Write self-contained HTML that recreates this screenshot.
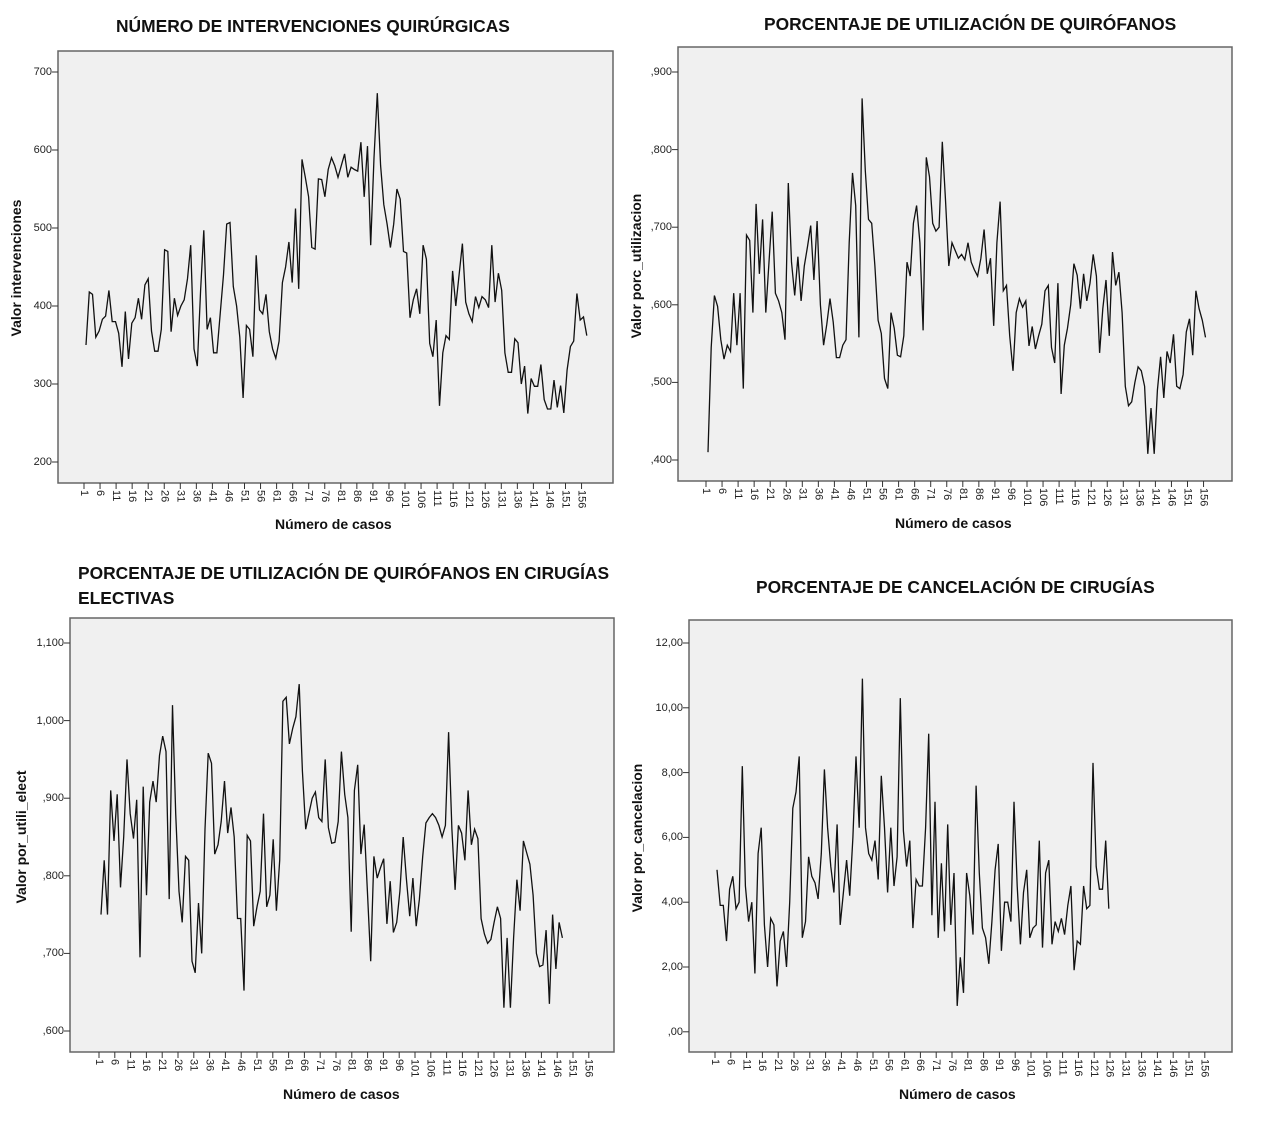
<!DOCTYPE html>
<html><head><meta charset="utf-8"><style>
body{margin:0;width:1262px;height:1122px;background:#fff;position:relative;overflow:hidden;font-family:"Liberation Sans",Arial,sans-serif}
.t{position:absolute;font-weight:bold;font-size:17.4px;color:#111;white-space:nowrap}
.ax{position:absolute;font-weight:bold;font-size:14px;color:#111;white-space:nowrap}
.yl{position:absolute;font-weight:bold;font-size:14px;color:#111;white-space:nowrap;transform:translate(-50%,-50%) rotate(-90deg)}
.yt{position:absolute;font-size:11px;color:#222;text-align:right;width:40px;line-height:12px}
.xt{position:absolute;display:flex;font-size:11px;color:#222}
.xt span{writing-mode:vertical-rl;display:block;text-align:left;line-height:16px}
svg{position:absolute;left:0;top:0}
</style></head><body>
<svg id="s" width="1262" height="1122"></svg>

<div class="t" style="left:116px;top:16px">NÚMERO DE INTERVENCIONES QUIRÚRGICAS</div>
<div class="t" style="left:764px;top:14px">PORCENTAJE DE UTILIZACIÓN DE QUIRÓFANOS</div>
<div class="t" style="left:78px;top:563px">PORCENTAJE DE UTILIZACIÓN DE QUIRÓFANOS EN CIRUGÍAS</div>
<div class="t" style="left:78px;top:588px">ELECTIVAS</div>
<div class="t" style="left:756px;top:577px">PORCENTAJE DE CANCELACIÓN DE CIRUGÍAS</div>

<div class="ax" style="left:275px;top:516px">Número de casos</div>
<div class="ax" style="left:895px;top:515px">Número de casos</div>
<div class="ax" style="left:283px;top:1086px">Número de casos</div>
<div class="ax" style="left:899px;top:1086px">Número de casos</div>

<div class="yl" style="left:16px;top:268px">Valor intervenciones</div>
<div class="yl" style="left:636px;top:266px">Valor porc_utilizacion</div>
<div class="yl" style="left:21px;top:837px">Valor por_utili_elect</div>
<div class="yl" style="left:637px;top:838px">Valor por_cancelacion</div>

<div class="yt" style="left:12px;top:66px">700</div>
<div class="yt" style="left:12px;top:144px">600</div>
<div class="yt" style="left:12px;top:222px">500</div>
<div class="yt" style="left:12px;top:300px">400</div>
<div class="yt" style="left:12px;top:378px">300</div>
<div class="yt" style="left:12px;top:456px">200</div>

<div class="yt" style="left:632px;top:66px">,900</div>
<div class="yt" style="left:632px;top:144px">,800</div>
<div class="yt" style="left:632px;top:221px">,700</div>
<div class="yt" style="left:632px;top:299px">,600</div>
<div class="yt" style="left:632px;top:376px">,500</div>
<div class="yt" style="left:632px;top:454px">,400</div>

<div class="yt" style="left:24px;top:637px">1,100</div>
<div class="yt" style="left:24px;top:715px">1,000</div>
<div class="yt" style="left:24px;top:792px">,900</div>
<div class="yt" style="left:24px;top:870px">,800</div>
<div class="yt" style="left:24px;top:947px">,700</div>
<div class="yt" style="left:24px;top:1025px">,600</div>

<div class="yt" style="left:643px;top:637px">12,00</div>
<div class="yt" style="left:643px;top:702px">10,00</div>
<div class="yt" style="left:643px;top:767px">8,00</div>
<div class="yt" style="left:643px;top:831px">6,00</div>
<div class="yt" style="left:643px;top:896px">4,00</div>
<div class="yt" style="left:643px;top:961px">2,00</div>
<div class="yt" style="left:643px;top:1026px">,00</div>

<div class="xt" style="left:76px;top:490px"><span style="width:16.05px">1</span><span style="width:16.05px">6</span><span style="width:16.05px">11</span><span style="width:16.05px">16</span><span style="width:16.05px">21</span><span style="width:16.05px">26</span><span style="width:16.05px">31</span><span style="width:16.05px">36</span><span style="width:16.05px">41</span><span style="width:16.05px">46</span><span style="width:16.05px">51</span><span style="width:16.05px">56</span><span style="width:16.05px">61</span><span style="width:16.05px">66</span><span style="width:16.05px">71</span><span style="width:16.05px">76</span><span style="width:16.05px">81</span><span style="width:16.05px">86</span><span style="width:16.05px">91</span><span style="width:16.05px">96</span><span style="width:16.05px">101</span><span style="width:16.05px">106</span><span style="width:16.05px">111</span><span style="width:16.05px">116</span><span style="width:16.05px">121</span><span style="width:16.05px">126</span><span style="width:16.05px">131</span><span style="width:16.05px">136</span><span style="width:16.05px">141</span><span style="width:16.05px">146</span><span style="width:16.05px">151</span><span style="width:16.05px">156</span></div>
<div class="xt" style="left:698px;top:488px"><span style="width:16.05px">1</span><span style="width:16.05px">6</span><span style="width:16.05px">11</span><span style="width:16.05px">16</span><span style="width:16.05px">21</span><span style="width:16.05px">26</span><span style="width:16.05px">31</span><span style="width:16.05px">36</span><span style="width:16.05px">41</span><span style="width:16.05px">46</span><span style="width:16.05px">51</span><span style="width:16.05px">56</span><span style="width:16.05px">61</span><span style="width:16.05px">66</span><span style="width:16.05px">71</span><span style="width:16.05px">76</span><span style="width:16.05px">81</span><span style="width:16.05px">86</span><span style="width:16.05px">91</span><span style="width:16.05px">96</span><span style="width:16.05px">101</span><span style="width:16.05px">106</span><span style="width:16.05px">111</span><span style="width:16.05px">116</span><span style="width:16.05px">121</span><span style="width:16.05px">126</span><span style="width:16.05px">131</span><span style="width:16.05px">136</span><span style="width:16.05px">141</span><span style="width:16.05px">146</span><span style="width:16.05px">151</span><span style="width:16.05px">156</span></div>
<div class="xt" style="left:91px;top:1059px"><span style="width:15.8px">1</span><span style="width:15.8px">6</span><span style="width:15.8px">11</span><span style="width:15.8px">16</span><span style="width:15.8px">21</span><span style="width:15.8px">26</span><span style="width:15.8px">31</span><span style="width:15.8px">36</span><span style="width:15.8px">41</span><span style="width:15.8px">46</span><span style="width:15.8px">51</span><span style="width:15.8px">56</span><span style="width:15.8px">61</span><span style="width:15.8px">66</span><span style="width:15.8px">71</span><span style="width:15.8px">76</span><span style="width:15.8px">81</span><span style="width:15.8px">86</span><span style="width:15.8px">91</span><span style="width:15.8px">96</span><span style="width:15.8px">101</span><span style="width:15.8px">106</span><span style="width:15.8px">111</span><span style="width:15.8px">116</span><span style="width:15.8px">121</span><span style="width:15.8px">126</span><span style="width:15.8px">131</span><span style="width:15.8px">136</span><span style="width:15.8px">141</span><span style="width:15.8px">146</span><span style="width:15.8px">151</span><span style="width:15.8px">156</span></div>
<div class="xt" style="left:707px;top:1059px"><span style="width:15.8px">1</span><span style="width:15.8px">6</span><span style="width:15.8px">11</span><span style="width:15.8px">16</span><span style="width:15.8px">21</span><span style="width:15.8px">26</span><span style="width:15.8px">31</span><span style="width:15.8px">36</span><span style="width:15.8px">41</span><span style="width:15.8px">46</span><span style="width:15.8px">51</span><span style="width:15.8px">56</span><span style="width:15.8px">61</span><span style="width:15.8px">66</span><span style="width:15.8px">71</span><span style="width:15.8px">76</span><span style="width:15.8px">81</span><span style="width:15.8px">86</span><span style="width:15.8px">91</span><span style="width:15.8px">96</span><span style="width:15.8px">101</span><span style="width:15.8px">106</span><span style="width:15.8px">111</span><span style="width:15.8px">116</span><span style="width:15.8px">121</span><span style="width:15.8px">126</span><span style="width:15.8px">131</span><span style="width:15.8px">136</span><span style="width:15.8px">141</span><span style="width:15.8px">146</span><span style="width:15.8px">151</span><span style="width:15.8px">156</span></div>

<script>
var d1=[350,418,415,360,368,383,387,420,380,380,365,322,393,332,378,385,410,383,427,435,368,342,342,370,472,470,367,410,388,400,408,435,478,345,323,420,497,370,385,340,340,390,440,505,507,425,400,360,282,375,370,335,465,395,390,415,367,345,333,355,430,450,482,430,525,422,588,565,540,475,473,563,562,540,575,590,580,565,580,595,565,578,575,573,610,540,605,478,590,673,580,530,505,475,505,550,537,470,468,385,408,422,390,478,460,352,335,382,272,340,362,357,445,400,440,480,405,390,380,412,398,412,408,398,478,405,442,420,340,315,315,358,353,300,323,262,307,297,297,325,280,268,268,305,270,298,263,318,348,355,416,382,386,362];
var d2=[.41,.545,.612,.598,.555,.53,.548,.54,.615,.548,.615,.492,.69,.683,.59,.73,.64,.71,.59,.655,.72,.615,.605,.59,.555,.757,.655,.612,.662,.605,.65,.675,.702,.632,.708,.6,.548,.575,.608,.578,.532,.532,.548,.555,.68,.77,.728,.558,.866,.773,.71,.705,.65,.58,.563,.505,.492,.59,.57,.535,.533,.56,.655,.637,.705,.728,.68,.567,.79,.765,.705,.695,.7,.81,.735,.65,.68,.67,.66,.665,.658,.68,.655,.645,.637,.66,.697,.64,.66,.573,.68,.733,.618,.625,.56,.515,.59,.608,.597,.605,.547,.572,.543,.56,.575,.618,.625,.545,.525,.628,.485,.548,.57,.6,.653,.638,.595,.64,.605,.628,.665,.637,.538,.595,.632,.56,.668,.625,.642,.59,.495,.47,.475,.5,.52,.515,.495,.408,.467,.408,.49,.533,.48,.54,.525,.562,.495,.492,.51,.565,.582,.535,.618,.595,.58,.558];
var d3=[.75,.82,.75,.91,.845,.905,.785,.85,.95,.88,.848,.898,.695,.915,.775,.895,.922,.895,.955,.98,.96,.77,1.02,.88,.78,.74,.825,.82,.69,.675,.765,.7,.86,.958,.945,.828,.84,.87,.922,.855,.888,.85,.745,.745,.652,.852,.845,.735,.76,.78,.88,.76,.775,.847,.755,.82,1.025,1.03,.97,.99,1.005,1.047,.935,.86,.88,.9,.908,.875,.87,.95,.862,.842,.843,.87,.96,.905,.875,.728,.91,.943,.828,.866,.78,.69,.825,.797,.81,.822,.738,.793,.727,.74,.78,.85,.796,.748,.797,.735,.77,.825,.868,.875,.88,.875,.865,.85,.865,.985,.86,.782,.865,.855,.82,.91,.84,.86,.848,.745,.725,.713,.718,.74,.76,.745,.63,.72,.63,.72,.795,.755,.845,.83,.815,.775,.7,.683,.685,.73,.635,.75,.68,.74,.72];
var d4=[5,3.9,3.9,2.8,4.4,4.8,3.8,4,8.2,4.5,3.4,4,1.8,5.5,6.3,3.3,2,3.5,3.3,1.4,2.8,3.1,2,4,6.9,7.4,8.5,2.9,3.4,5.4,4.8,4.6,4.1,5.5,8.1,6.3,5.1,4.3,6.4,3.3,4.3,5.3,4.2,6,8.5,6.3,10.9,6.3,5.5,5.3,5.9,4.7,7.9,6.3,4.3,6.3,4.5,5.4,10.3,6.2,5.1,5.9,3.2,4.7,4.5,4.5,6.3,9.2,3.6,7.1,2.9,5.2,3.1,6.4,3.3,4.9,.8,2.3,1.2,4.9,4.2,3,7.6,4.9,3.2,2.9,2.1,3.4,5,5.8,2.5,4,4,3.4,7.1,4.5,2.7,4.3,5,2.9,3.2,3.3,5.9,2.6,4.9,5.3,2.7,3.4,3.1,3.5,3,3.9,4.5,1.9,2.8,2.7,4.5,3.8,3.9,8.3,5.1,4.4,4.4,5.9,3.8];
var C=[
 {L:58,T:51,R:613,B:483,x1:84,px:3.21,d:d1,y:function(v){return 72+(700-v)*0.78},yt:[700,600,500,400,300,200],n:157},
 {L:678,T:47,R:1232,B:481,x1:706,px:3.21,d:d2,y:function(v){return 72+(0.9-v)*776},yt:[.9,.8,.7,.6,.5,.4],n:156},
 {L:70,T:618,R:614,B:1052,x1:99,px:3.16,d:d3,y:function(v){return 643+(1.1-v)*776},yt:[1.1,1,.9,.8,.7,.6],n:147},
 {L:689,T:620,R:1232,B:1052,x1:715,px:3.16,d:d4,y:function(v){return 643+(12-v)*32.4},yt:[12,10,8,6,4,2,0],n:125}];
var h='';
C.forEach(function(c){
 h+='<rect x="'+c.L+'" y="'+c.T+'" width="'+(c.R-c.L)+'" height="'+(c.B-c.T)+'" fill="#f0f0f0" stroke="#666" stroke-width="1.5"/>';
 c.yt.forEach(function(v){var y=c.y(v);h+='<line x1="'+(c.L-6)+'" x2="'+c.L+'" y1="'+y+'" y2="'+y+'" stroke="#333"/>';});
 for(var k=1;k<=156;k+=5){var x=c.x1+(k-1)*c.px;h+='<line x1="'+x+'" x2="'+x+'" y1="'+c.B+'" y2="'+(c.B+6)+'" stroke="#333"/>';}
 var st=(c.n-1)/(c.d.length-1)*c.px,p=[];
 c.d.forEach(function(v,i){p.push((c.x1+2+i*st).toFixed(1)+','+c.y(v).toFixed(1));});
 h+='<polyline points="'+p.join(' ')+'" fill="none" stroke="#111" stroke-width="1.3"/>';
});
document.getElementById('s').innerHTML=h;
</script>
</body></html>
